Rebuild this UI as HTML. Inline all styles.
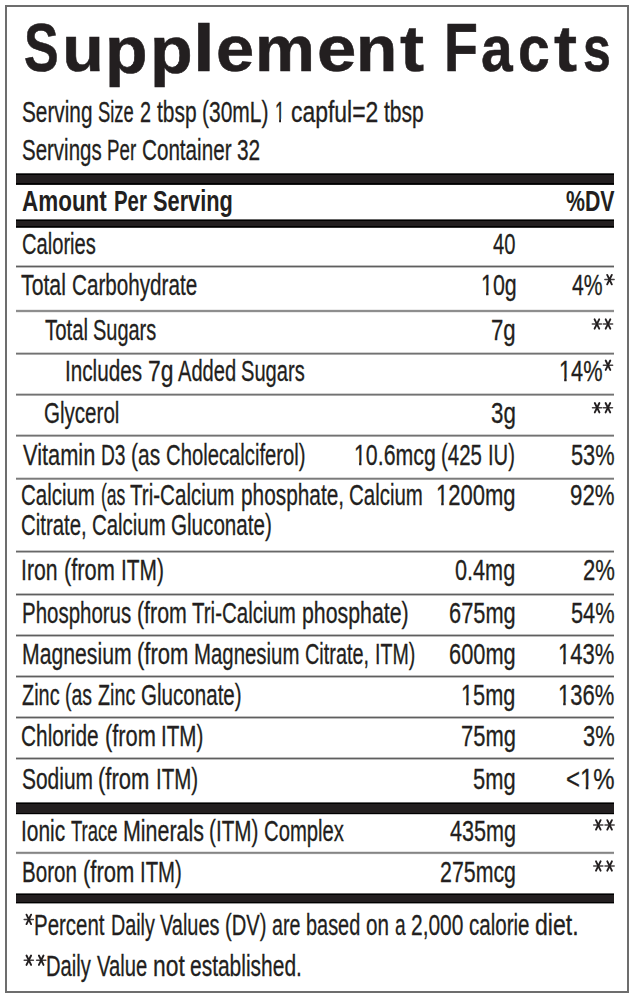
<!DOCTYPE html><html><head><meta charset="utf-8"><style>
html,body{margin:0;padding:0;background:#fff;width:638px;height:1000px;overflow:hidden;position:relative}
.t{position:absolute;white-space:pre;-webkit-text-stroke:0.3px #231f20;transform-origin:0 0;line-height:1;font-family:"Liberation Sans",sans-serif;color:#231f20}
.h{-webkit-text-stroke:0.6px #231f20}
.bb{-webkit-text-stroke:0.0px #231f20}
.r{position:absolute;left:16px;width:598px}
.o{display:inline-block;clip-path:polygon(0 0,100% 0,100% 73.5%,62.5% 73.5%,62.5% 100%,43% 100%,43% 73.5%,0 73.5%)}
.b{background:#231f20}
.l{height:3px;background:linear-gradient(#b4b4b4 0 1px,#6e6e6e 1px 2px,#b8b8b8 2px 3px)}
.bd{position:absolute;background:#6d6d6d}
</style></head><body>
<div class="bd" style="left:5px;top:5px;width:624px;height:2px"></div>
<div class="bd" style="left:5px;top:991px;width:624px;height:2px"></div>
<div class="bd" style="left:5px;top:5px;width:2px;height:988px"></div>
<div class="bd" style="left:627px;top:5px;width:2px;height:988px"></div>
<div class="r" style="top:173px;height:12px;background:linear-gradient(rgb(77,77,77) 0px 1px,#000 1px 2px,#231f20 2px 3px,#231f20 3px 4px,#231f20 4px 5px,#231f20 5px 6px,#231f20 6px 7px,#231f20 7px 8px,#231f20 8px 9px,#231f20 9px 10px,#000 10px 11px,rgb(25,25,25) 11px 12px)"></div>
<div class="r" style="top:219px;height:9px;background:linear-gradient(rgb(102,102,102) 0px 1px,#000 1px 2px,#231f20 2px 3px,#231f20 3px 4px,#231f20 4px 5px,#231f20 5px 6px,#231f20 6px 7px,#000 7px 8px,rgb(51,51,51) 8px 9px)"></div>
<div class="r" style="top:802px;height:13px;background:linear-gradient(rgb(102,102,102) 0px 1px,#000 1px 2px,#231f20 2px 3px,#231f20 3px 4px,#231f20 4px 5px,#231f20 5px 6px,#231f20 6px 7px,#231f20 7px 8px,#231f20 8px 9px,#231f20 9px 10px,#231f20 10px 11px,#000 11px 12px,rgb(204,204,204) 12px 13px)"></div>
<div class="r" style="top:893px;height:11px;background:linear-gradient(rgb(102,102,102) 0px 1px,#000 1px 2px,#231f20 2px 3px,#231f20 3px 4px,#231f20 4px 5px,#231f20 5px 6px,#231f20 6px 7px,#231f20 7px 8px,#231f20 8px 9px,#000 9px 10px,rgb(153,153,153) 10px 11px)"></div>
<div class="r" style="top:264px;height:5px;background:linear-gradient(rgb(255,255,255) 0px 1px,rgb(189,189,189) 1px 2px,rgb(95,95,95) 2px 3px,rgb(189,189,189) 3px 4px,rgb(255,255,255) 4px 5px)"></div>
<div class="r" style="top:309px;height:5px;background:linear-gradient(rgb(236,236,236) 0px 1px,rgb(142,142,142) 1px 2px,rgb(142,142,142) 2px 3px,rgb(236,236,236) 3px 4px,rgb(255,255,255) 4px 5px)"></div>
<div class="r" style="top:351px;height:5px;background:linear-gradient(rgb(255,255,255) 0px 1px,rgb(208,208,208) 1px 2px,rgb(114,114,114) 2px 3px,rgb(170,170,170) 3px 4px,rgb(255,255,255) 4px 5px)"></div>
<div class="r" style="top:392px;height:5px;background:linear-gradient(rgb(255,255,255) 0px 1px,rgb(208,208,208) 1px 2px,rgb(114,114,114) 2px 3px,rgb(170,170,170) 3px 4px,rgb(255,255,255) 4px 5px)"></div>
<div class="r" style="top:433px;height:5px;background:linear-gradient(rgb(255,255,255) 0px 1px,rgb(208,208,208) 1px 2px,rgb(114,114,114) 2px 3px,rgb(170,170,170) 3px 4px,rgb(255,255,255) 4px 5px)"></div>
<div class="r" style="top:476px;height:5px;background:linear-gradient(rgb(255,255,255) 0px 1px,rgb(217,217,217) 1px 2px,rgb(123,123,123) 2px 3px,rgb(161,161,161) 3px 4px,rgb(255,255,255) 4px 5px)"></div>
<div class="r" style="top:549px;height:5px;background:linear-gradient(rgb(255,255,255) 0px 1px,rgb(199,199,199) 1px 2px,rgb(104,104,104) 2px 3px,rgb(180,180,180) 3px 4px,rgb(255,255,255) 4px 5px)"></div>
<div class="r" style="top:592px;height:5px;background:linear-gradient(rgb(255,255,255) 0px 1px,rgb(189,189,189) 1px 2px,rgb(95,95,95) 2px 3px,rgb(189,189,189) 3px 4px,rgb(255,255,255) 4px 5px)"></div>
<div class="r" style="top:633px;height:5px;background:linear-gradient(rgb(255,255,255) 0px 1px,rgb(189,189,189) 1px 2px,rgb(95,95,95) 2px 3px,rgb(189,189,189) 3px 4px,rgb(255,255,255) 4px 5px)"></div>
<div class="r" style="top:674px;height:5px;background:linear-gradient(rgb(255,255,255) 0px 1px,rgb(189,189,189) 1px 2px,rgb(95,95,95) 2px 3px,rgb(189,189,189) 3px 4px,rgb(255,255,255) 4px 5px)"></div>
<div class="r" style="top:715px;height:5px;background:linear-gradient(rgb(255,255,255) 0px 1px,rgb(189,189,189) 1px 2px,rgb(95,95,95) 2px 3px,rgb(189,189,189) 3px 4px,rgb(255,255,255) 4px 5px)"></div>
<div class="r" style="top:756px;height:5px;background:linear-gradient(rgb(255,255,255) 0px 1px,rgb(189,189,189) 1px 2px,rgb(95,95,95) 2px 3px,rgb(189,189,189) 3px 4px,rgb(255,255,255) 4px 5px)"></div>
<div class="r" style="top:850px;height:5px;background:linear-gradient(rgb(255,255,255) 0px 1px,rgb(227,227,227) 1px 2px,rgb(133,133,133) 2px 3px,rgb(151,151,151) 3px 4px,rgb(246,246,246) 4px 5px)"></div>
<div class="t h" style="left:23.98px;top:12.80px;font-size:68px;font-weight:bold;transform:scaleX(0.7635)">S</div>
<div class="t h" style="left:62.18px;top:12.80px;font-size:68px;font-weight:bold;transform:translateY(0px) scale(1.0000,0.964);transform-origin:0 58px">u</div>
<div class="t h" style="left:105.40px;top:12.80px;font-size:68px;font-weight:bold;transform:translateY(1.8px) scale(1.0249,0.978);transform-origin:0 58px">p</div>
<div class="t h" style="left:149.89px;top:12.80px;font-size:68px;font-weight:bold;transform:translateY(1.8px) scale(1.0278,0.978);transform-origin:0 58px">p</div>
<div class="t h" style="left:193.40px;top:12.80px;font-size:68px;font-weight:bold;transform:translateY(0px) scale(1.1514,0.978);transform-origin:0 58px">l</div>
<div class="t h" style="left:215.89px;top:12.80px;font-size:68px;font-weight:bold;transform:translateY(0px) scale(1.0088,0.964);transform-origin:0 58px">e</div>
<div class="t h" style="left:255.34px;top:12.80px;font-size:68px;font-weight:bold;transform:translateY(0px) scale(0.9912,0.964);transform-origin:0 58px">m</div>
<div class="t h" style="left:317.03px;top:12.80px;font-size:68px;font-weight:bold;transform:translateY(0px) scale(1.0386,0.964);transform-origin:0 58px">e</div>
<div class="t h" style="left:356.24px;top:12.80px;font-size:68px;font-weight:bold;transform:translateY(0px) scale(0.9932,0.964);transform-origin:0 58px">n</div>
<div class="t h" style="left:399.83px;top:12.80px;font-size:68px;font-weight:bold;transform:translateY(0px) scale(1.0613,0.951);transform-origin:0 58px">t</div>
<div class="t h" style="left:443.87px;top:12.80px;font-size:68px;font-weight:bold;transform:scaleX(0.8162)">F</div>
<div class="t h" style="left:480.66px;top:12.80px;font-size:68px;font-weight:bold;transform:translateY(0px) scale(0.8366,0.964);transform-origin:0 58px">a</div>
<div class="t h" style="left:518.39px;top:12.80px;font-size:68px;font-weight:bold;transform:translateY(0px) scale(0.8380,0.964);transform-origin:0 58px">c</div>
<div class="t h" style="left:554.35px;top:12.80px;font-size:68px;font-weight:bold;transform:translateY(0px) scale(1.0152,0.951);transform-origin:0 58px">t</div>
<div class="t h" style="left:582.66px;top:12.80px;font-size:68px;font-weight:bold;transform:translateY(0px) scale(0.7377,0.964);transform-origin:0 58px">s</div>
<div class="t" style="left:21.83px;top:97.00px;font-size:29.5px;font-weight:normal;transform:scaleX(0.7042)">Serving</div>
<div class="t" style="left:98.24px;top:97.00px;font-size:29.5px;font-weight:normal;transform:scaleX(0.6230)">Size</div>
<div class="t" style="left:140.10px;top:97.00px;font-size:29.5px;font-weight:normal;transform:scaleX(0.6727)">2</div>
<div class="t" style="left:156.86px;top:97.00px;font-size:29.5px;font-weight:normal;transform:scaleX(0.7097)">tbsp</div>
<div class="t" style="left:202.31px;top:97.00px;font-size:29.5px;font-weight:normal;transform:scaleX(0.7118)">(30mL)</div>
<div class="t" style="left:275.13px;top:97.00px;font-size:29.5px;font-weight:normal;transform:scaleX(0.5846)"><span class="o">1</span></div>
<div class="t" style="left:291.39px;top:97.00px;font-size:29.5px;font-weight:normal;transform:scaleX(0.7772)">capful=2</div>
<div class="t" style="left:384.36px;top:97.00px;font-size:29.5px;font-weight:normal;transform:scaleX(0.7131)">tbsp</div>
<div class="t" style="left:21.54px;top:135.00px;font-size:29.5px;font-weight:normal;transform:scaleX(0.6938)">Servings</div>
<div class="t" style="left:106.95px;top:135.00px;font-size:29.5px;font-weight:normal;transform:scaleX(0.6344)">Per</div>
<div class="t" style="left:141.99px;top:135.00px;font-size:29.5px;font-weight:normal;transform:scaleX(0.6997)">Container</div>
<div class="t" style="left:237.06px;top:135.00px;font-size:29.5px;font-weight:normal;transform:scaleX(0.7070)">32</div>
<div class="t bb" style="left:22.35px;top:186.00px;font-size:29.5px;font-weight:bold;transform:scaleX(0.7609)">Amount</div>
<div class="t bb" style="left:113.50px;top:186.00px;font-size:29.5px;font-weight:bold;transform:scaleX(0.6911)">Per</div>
<div class="t bb" style="left:152.51px;top:186.00px;font-size:29.5px;font-weight:bold;transform:scaleX(0.7379)">Serving</div>
<div class="t bb" style="left:565.86px;top:186.00px;font-size:29.5px;font-weight:bold;transform:scaleX(0.7222)">%DV</div>
<div class="t" style="left:21.51px;top:229.00px;font-size:29.5px;font-weight:normal;transform:scaleX(0.6822)">Calories</div>
<div class="t" style="left:493.23px;top:229.00px;font-size:29.5px;font-weight:normal;transform:scaleX(0.6835)">40</div>
<div class="t" style="left:21.45px;top:270.00px;font-size:29.5px;font-weight:normal;transform:scaleX(0.7206)">Total</div>
<div class="t" style="left:72.19px;top:270.00px;font-size:29.5px;font-weight:normal;transform:scaleX(0.7005)">Carbohydrate</div>
<div class="t" style="left:480.76px;top:270.00px;font-size:29.5px;font-weight:normal;transform:scaleX(0.7251)"><span class="o">1</span>0g</div>
<div class="t" style="left:572.31px;top:270.00px;font-size:29.5px;font-weight:normal;transform:scaleX(0.7174)">4%</div>
<div class="t" style="left:44.76px;top:315.00px;font-size:29.5px;font-weight:normal;transform:scaleX(0.6903)">Total</div>
<div class="t" style="left:93.16px;top:315.00px;font-size:29.5px;font-weight:normal;transform:scaleX(0.6765)">Sugars</div>
<div class="t" style="left:491.46px;top:315.00px;font-size:29.5px;font-weight:normal;transform:scaleX(0.7520)">7g</div>
<div class="t" style="left:65.41px;top:356.00px;font-size:29.5px;font-weight:normal;transform:scaleX(0.7015)">Includes</div>
<div class="t" style="left:148.03px;top:356.00px;font-size:29.5px;font-weight:normal;transform:scaleX(0.7762)">7g</div>
<div class="t" style="left:177.76px;top:356.00px;font-size:29.5px;font-weight:normal;transform:scaleX(0.6816)">Added</div>
<div class="t" style="left:241.46px;top:356.00px;font-size:29.5px;font-weight:normal;transform:scaleX(0.6820)">Sugars</div>
<div class="t" style="left:559.12px;top:356.00px;font-size:29.5px;font-weight:normal;transform:scaleX(0.7380)"><span class="o">1</span>4%</div>
<div class="t" style="left:43.52px;top:398.00px;font-size:29.5px;font-weight:normal;transform:scaleX(0.6968)">Glycerol</div>
<div class="t" style="left:490.61px;top:398.00px;font-size:29.5px;font-weight:normal;transform:scaleX(0.7568)">3g</div>
<div class="t" style="left:22.55px;top:440.00px;font-size:29.5px;font-weight:normal;transform:scaleX(0.7393)">Vitamin</div>
<div class="t" style="left:100.62px;top:440.00px;font-size:29.5px;font-weight:normal;transform:scaleX(0.6510)">D3</div>
<div class="t" style="left:131.01px;top:440.00px;font-size:29.5px;font-weight:normal;transform:scaleX(0.7102)">(as</div>
<div class="t" style="left:165.81px;top:440.00px;font-size:29.5px;font-weight:normal;transform:scaleX(0.6865)">Cholecalciferol)</div>
<div class="t" style="left:353.76px;top:440.00px;font-size:29.5px;font-weight:normal;transform:scaleX(0.7228)"><span class="o">1</span>0.6mcg</div>
<div class="t" style="left:441.24px;top:440.00px;font-size:29.5px;font-weight:normal;transform:scaleX(0.6917)">(425</div>
<div class="t" style="left:487.85px;top:440.00px;font-size:29.5px;font-weight:normal;transform:scaleX(0.6849)">IU)</div>
<div class="t" style="left:571.41px;top:440.00px;font-size:29.5px;font-weight:normal;transform:scaleX(0.7382)">53%</div>
<div class="t" style="left:21.00px;top:480.00px;font-size:29.5px;font-weight:normal;transform:scaleX(0.6937)">Calcium</div>
<div class="t" style="left:100.80px;top:480.00px;font-size:29.5px;font-weight:normal;transform:scaleX(0.5946)">(as</div>
<div class="t" style="left:130.46px;top:480.00px;font-size:29.5px;font-weight:normal;transform:scaleX(0.6983)">Tri-Calcium</div>
<div class="t" style="left:240.69px;top:480.00px;font-size:29.5px;font-weight:normal;transform:scaleX(0.7063)">phosphate,</div>
<div class="t" style="left:349.40px;top:480.00px;font-size:29.5px;font-weight:normal;transform:scaleX(0.6938)">Calcium</div>
<div class="t" style="left:21.00px;top:510.00px;font-size:29.5px;font-weight:normal;transform:scaleX(0.6900)">Citrate,</div>
<div class="t" style="left:92.20px;top:510.00px;font-size:29.5px;font-weight:normal;transform:scaleX(0.6912)">Calcium</div>
<div class="t" style="left:171.32px;top:510.00px;font-size:29.5px;font-weight:normal;transform:scaleX(0.6991)">Gluconate)</div>
<div class="t" style="left:435.80px;top:480.00px;font-size:29.5px;font-weight:normal;transform:scaleX(0.7466)"><span class="o">1</span>200mg</div>
<div class="t" style="left:570.48px;top:480.00px;font-size:29.5px;font-weight:normal;transform:scaleX(0.7543)">92%</div>
<div class="t" style="left:21.47px;top:555.00px;font-size:29.5px;font-weight:normal;transform:scaleX(0.7181)">Iron</div>
<div class="t" style="left:63.86px;top:555.00px;font-size:29.5px;font-weight:normal;transform:scaleX(0.7397)">(from</div>
<div class="t" style="left:120.69px;top:555.00px;font-size:29.5px;font-weight:normal;transform:scaleX(0.7087)">ITM)</div>
<div class="t" style="left:455.35px;top:555.00px;font-size:29.5px;font-weight:normal;transform:scaleX(0.7341)">0.4mg</div>
<div class="t" style="left:582.89px;top:555.00px;font-size:29.5px;font-weight:normal;transform:scaleX(0.7487)">2%</div>
<div class="t" style="left:21.94px;top:598.00px;font-size:29.5px;font-weight:normal;transform:scaleX(0.6938)">Phosphorus</div>
<div class="t" style="left:137.08px;top:598.00px;font-size:29.5px;font-weight:normal;transform:scaleX(0.7249)">(from</div>
<div class="t" style="left:192.26px;top:598.00px;font-size:29.5px;font-weight:normal;transform:scaleX(0.6944)">Tri-Calcium</div>
<div class="t" style="left:302.06px;top:598.00px;font-size:29.5px;font-weight:normal;transform:scaleX(0.7222)">phosphate)</div>
<div class="t" style="left:448.86px;top:598.00px;font-size:29.5px;font-weight:normal;transform:scaleX(0.7395)">675mg</div>
<div class="t" style="left:571.41px;top:598.00px;font-size:29.5px;font-weight:normal;transform:scaleX(0.7382)">54%</div>
<div class="t" style="left:21.59px;top:639.00px;font-size:29.5px;font-weight:normal;transform:scaleX(0.7188)">Magnesium</div>
<div class="t" style="left:136.95px;top:639.00px;font-size:29.5px;font-weight:normal;transform:scaleX(0.7474)">(from</div>
<div class="t" style="left:194.04px;top:639.00px;font-size:29.5px;font-weight:normal;transform:scaleX(0.6911)">Magnesium</div>
<div class="t" style="left:304.93px;top:639.00px;font-size:29.5px;font-weight:normal;transform:scaleX(0.6731)">Citrate,</div>
<div class="t" style="left:374.71px;top:639.00px;font-size:29.5px;font-weight:normal;transform:scaleX(0.6645)">ITM)</div>
<div class="t" style="left:448.86px;top:639.00px;font-size:29.5px;font-weight:normal;transform:scaleX(0.7395)">600mg</div>
<div class="t" style="left:558.40px;top:639.00px;font-size:29.5px;font-weight:normal;transform:scaleX(0.7464)"><span class="o">1</span>43%</div>
<div class="t" style="left:21.82px;top:680.00px;font-size:29.5px;font-weight:normal;transform:scaleX(0.6744)">Zinc</div>
<div class="t" style="left:65.09px;top:680.00px;font-size:29.5px;font-weight:normal;transform:scaleX(0.6585)">(as</div>
<div class="t" style="left:97.72px;top:680.00px;font-size:29.5px;font-weight:normal;transform:scaleX(0.6686)">Zinc</div>
<div class="t" style="left:140.62px;top:680.00px;font-size:29.5px;font-weight:normal;transform:scaleX(0.6976)">Gluconate)</div>
<div class="t" style="left:461.03px;top:680.00px;font-size:29.5px;font-weight:normal;transform:scaleX(0.7368)"><span class="o">1</span>5mg</div>
<div class="t" style="left:558.40px;top:680.00px;font-size:29.5px;font-weight:normal;transform:scaleX(0.7464)"><span class="o">1</span>36%</div>
<div class="t" style="left:21.28px;top:721.00px;font-size:29.5px;font-weight:normal;transform:scaleX(0.7064)">Chloride</div>
<div class="t" style="left:104.66px;top:721.00px;font-size:29.5px;font-weight:normal;transform:scaleX(0.7400)">(from</div>
<div class="t" style="left:161.42px;top:721.00px;font-size:29.5px;font-weight:normal;transform:scaleX(0.6981)">ITM)</div>
<div class="t" style="left:460.57px;top:721.00px;font-size:29.5px;font-weight:normal;transform:scaleX(0.7431)">75mg</div>
<div class="t" style="left:583.23px;top:721.00px;font-size:29.5px;font-weight:normal;transform:scaleX(0.7408)">3%</div>
<div class="t" style="left:21.52px;top:764.00px;font-size:29.5px;font-weight:normal;transform:scaleX(0.7098)">Sodium</div>
<div class="t" style="left:98.35px;top:764.00px;font-size:29.5px;font-weight:normal;transform:scaleX(0.7454)">(from</div>
<div class="t" style="left:155.53px;top:764.00px;font-size:29.5px;font-weight:normal;transform:scaleX(0.6963)">ITM)</div>
<div class="t" style="left:472.71px;top:764.00px;font-size:29.5px;font-weight:normal;transform:scaleX(0.7424)">5mg</div>
<div class="t" style="left:566.29px;top:764.00px;font-size:29.5px;font-weight:normal;transform:scaleX(0.8123)">&lt;<span class="o">1</span>%</div>
<div class="t" style="left:21.19px;top:816.00px;font-size:29.5px;font-weight:normal;transform:scaleX(0.7089)">Ionic</div>
<div class="t" style="left:70.69px;top:816.00px;font-size:29.5px;font-weight:normal;transform:scaleX(0.6248)">Trace</div>
<div class="t" style="left:122.57px;top:816.00px;font-size:29.5px;font-weight:normal;transform:scaleX(0.7264)">Minerals</div>
<div class="t" style="left:209.02px;top:816.00px;font-size:29.5px;font-weight:normal;transform:scaleX(0.7014)">(ITM)</div>
<div class="t" style="left:263.91px;top:816.00px;font-size:29.5px;font-weight:normal;transform:scaleX(0.6866)">Complex</div>
<div class="t" style="left:449.50px;top:816.00px;font-size:29.5px;font-weight:normal;transform:scaleX(0.7322)">435mg</div>
<div class="t" style="left:21.83px;top:857.00px;font-size:29.5px;font-weight:normal;transform:scaleX(0.6970)">Boron</div>
<div class="t" style="left:82.55px;top:857.00px;font-size:29.5px;font-weight:normal;transform:scaleX(0.7466)">(from</div>
<div class="t" style="left:139.74px;top:857.00px;font-size:29.5px;font-weight:normal;transform:scaleX(0.6892)">ITM)</div>
<div class="t" style="left:439.53px;top:857.00px;font-size:29.5px;font-weight:normal;transform:scaleX(0.7238)">275mcg</div>
<div class="t" style="left:34.44px;top:910.00px;font-size:29.5px;font-weight:normal;transform:scaleX(0.6928)">Percent</div>
<div class="t" style="left:110.69px;top:910.00px;font-size:29.5px;font-weight:normal;transform:scaleX(0.6686)">Daily</div>
<div class="t" style="left:160.25px;top:910.00px;font-size:29.5px;font-weight:normal;transform:scaleX(0.6756)">Values</div>
<div class="t" style="left:225.35px;top:910.00px;font-size:29.5px;font-weight:normal;transform:scaleX(0.6838)">(DV)</div>
<div class="t" style="left:272.49px;top:910.00px;font-size:29.5px;font-weight:normal;transform:scaleX(0.6655)">are</div>
<div class="t" style="left:306.34px;top:910.00px;font-size:29.5px;font-weight:normal;transform:scaleX(0.6747)">based</div>
<div class="t" style="left:366.36px;top:910.00px;font-size:29.5px;font-weight:normal;transform:scaleX(0.6994)">on</div>
<div class="t" style="left:395.01px;top:910.00px;font-size:29.5px;font-weight:normal;transform:scaleX(0.6463)">a</div>
<div class="t" style="left:411.05px;top:910.00px;font-size:29.5px;font-weight:normal;transform:scaleX(0.7095)">2,000</div>
<div class="t" style="left:469.06px;top:910.00px;font-size:29.5px;font-weight:normal;transform:scaleX(0.6968)">calorie</div>
<div class="t" style="left:535.29px;top:910.00px;font-size:29.5px;font-weight:normal;transform:scaleX(0.7824)">diet.</div>
<div class="t" style="left:46.46px;top:951.00px;font-size:29.5px;font-weight:normal;transform:scaleX(0.6837)">Daily</div>
<div class="t" style="left:97.15px;top:951.00px;font-size:29.5px;font-weight:normal;transform:scaleX(0.6848)">Value</div>
<div class="t" style="left:152.93px;top:951.00px;font-size:29.5px;font-weight:normal;transform:scaleX(0.7743)">not</div>
<div class="t" style="left:190.45px;top:951.00px;font-size:29.5px;font-weight:normal;transform:scaleX(0.7106)">established.</div>
<svg style="position:absolute;left:0;top:0" width="638" height="1000" viewBox="0 0 638 1000"><g stroke="#231f20" stroke-linecap="round" fill="none"><path stroke-width="1.5" stroke-opacity="0.85" d="M604.90 279.60H614.10"/><path stroke-width="1.9" d="M607.20 274.90L611.80 284.30M611.80 274.90L607.20 284.30"/><path stroke-width="1.5" stroke-opacity="0.85" d="M592.30 324.00H601.50"/><path stroke-width="1.9" d="M594.60 319.30L599.20 328.70M599.20 319.30L594.60 328.70"/><path stroke-width="1.5" stroke-opacity="0.85" d="M603.40 324.00H612.60"/><path stroke-width="1.9" d="M605.70 319.30L610.30 328.70M610.30 319.30L605.70 328.70"/><path stroke-width="1.5" stroke-opacity="0.85" d="M603.40 365.20H612.60"/><path stroke-width="1.9" d="M605.70 360.50L610.30 369.90M610.30 360.50L605.70 369.90"/><path stroke-width="1.5" stroke-opacity="0.85" d="M592.50 407.70H601.70"/><path stroke-width="1.9" d="M594.80 403.00L599.40 412.40M599.40 403.00L594.80 412.40"/><path stroke-width="1.5" stroke-opacity="0.85" d="M603.30 407.70H612.50"/><path stroke-width="1.9" d="M605.60 403.00L610.20 412.40M610.20 403.00L605.60 412.40"/><path stroke-width="1.5" stroke-opacity="0.85" d="M593.70 824.90H602.90"/><path stroke-width="1.9" d="M596.00 820.20L600.60 829.60M600.60 820.20L596.00 829.60"/><path stroke-width="1.5" stroke-opacity="0.85" d="M605.00 824.90H614.20"/><path stroke-width="1.9" d="M607.30 820.20L611.90 829.60M611.90 820.20L607.30 829.60"/><path stroke-width="1.5" stroke-opacity="0.85" d="M593.70 866.00H602.90"/><path stroke-width="1.9" d="M596.00 861.30L600.60 870.70M600.60 861.30L596.00 870.70"/><path stroke-width="1.5" stroke-opacity="0.85" d="M605.00 866.00H614.20"/><path stroke-width="1.9" d="M607.30 861.30L611.90 870.70M611.90 861.30L607.30 870.70"/><path stroke-width="1.5" stroke-opacity="0.85" d="M24.20 919.40H33.40"/><path stroke-width="1.9" d="M26.50 914.70L31.10 924.10M31.10 914.70L26.50 924.10"/><path stroke-width="1.5" stroke-opacity="0.85" d="M24.20 960.20H33.40"/><path stroke-width="1.9" d="M26.50 955.50L31.10 964.90M31.10 955.50L26.50 964.90"/><path stroke-width="1.5" stroke-opacity="0.85" d="M36.60 960.20H45.80"/><path stroke-width="1.9" d="M38.90 955.50L43.50 964.90M43.50 955.50L38.90 964.90"/></g></svg>
</body></html>
